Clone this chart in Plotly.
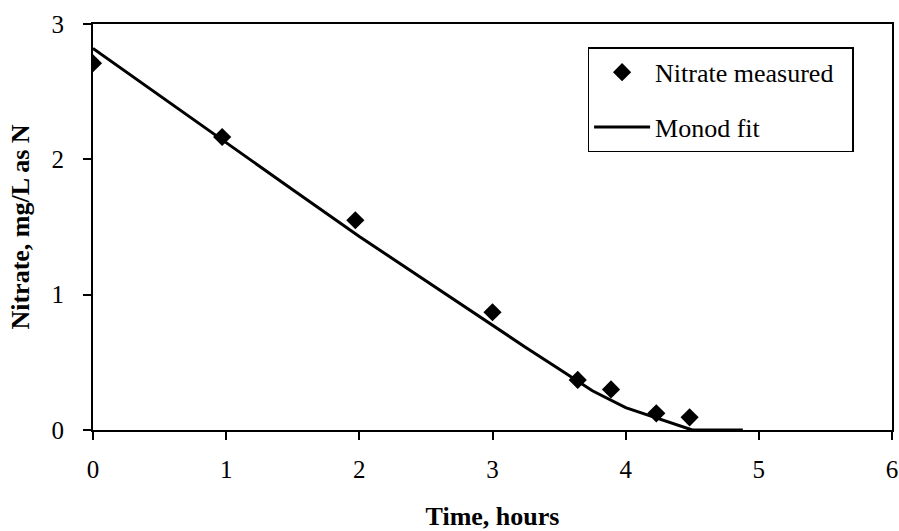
import plotly.graph_objects as go

# Measured nitrate concentrations
time_measured = [0.0, 0.97, 1.97, 3.0, 3.64, 3.89, 4.23, 4.48]
nitrate_measured = [2.71, 2.165, 1.55, 0.87, 0.37, 0.30, 0.123, 0.094]

# Monod model fit curve
time_fit = [0.0, 0.5, 1.0, 1.5, 2.0, 2.5, 3.0, 3.25, 3.5, 3.75, 4.0, 4.25, 4.4, 4.5, 4.88]
nitrate_fit = [2.82, 2.47, 2.12, 1.775, 1.43, 1.10, 0.775, 0.61, 0.45, 0.29, 0.165, 0.08, 0.03, 0.0, 0.0]

x_ticks = [0, 1, 2, 3, 4, 5, 6]
y_ticks = [0, 1, 2, 3]

FONT = "Liberation Serif, Times New Roman, serif"

fig = go.Figure()

fig.add_trace(go.Scatter(
    x=time_fit, y=nitrate_fit, mode="lines",
    name="Monod fit", legendgroup="fit", legendrank=2,
    line=dict(color="black", width=3),
))

fig.add_trace(go.Scatter(
    x=time_measured, y=nitrate_measured, mode="markers",
    name="Nitrate measured\u00a0\u00a0", legendgroup="meas", legendrank=1,
    marker=dict(symbol="diamond", size=14, color="black"),
))

axis_common = dict(
    showgrid=False, zeroline=False, automargin=False,
    showline=True, linecolor="black", linewidth=2,
    ticks="outside", ticklen=8, tickwidth=2, tickcolor="black",
    tickfont=dict(family=FONT, size=25, color="black"),
)

fig.update_xaxes(
    range=[0, 6], tickvals=x_ticks, ticktext=[str(v) for v in x_ticks],
    mirror=True, ticklabelstandoff=8,
    title=dict(text="<b>Time, hours</b>", standoff=30,
               font=dict(family=FONT, size=26, color="black")),
    **axis_common,
)
fig.update_yaxes(
    range=[0, 3], tickvals=y_ticks, ticktext=[str(v) for v in y_ticks],
    mirror=True, ticklabelstandoff=14,
    title=dict(text="<b>Nitrate, mg/L as N</b>", standoff=14,
               font=dict(family=FONT, size=26, color="black")),
    **axis_common,
)

fig.update_layout(
    width=899, height=531,
    margin=dict(l=93, r=7, t=24, b=101),
    paper_bgcolor="white", plot_bgcolor="white",
    font=dict(family=FONT, size=26, color="black"),
    showlegend=True,
    legend=dict(
        x=0.619, y=0.9426, xanchor="left", yanchor="top",
        bgcolor="white", bordercolor="black", borderwidth=1.5,
        font=dict(family=FONT, size=26, color="black"),
        itemwidth=56, tracegroupgap=18,
    ),
)

fig.write_html("out.html")
